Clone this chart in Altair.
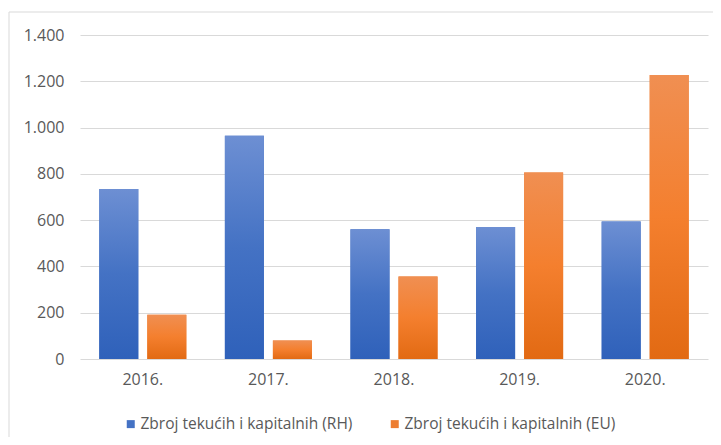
import altair as alt
import pandas as pd

years = ["2016.", "2017.", "2018.", "2019.", "2020."]
series_rh = "Zbroj tekućih i kapitalnih (RH)"
series_eu = "Zbroj tekućih i kapitalnih (EU)"
values_rh = [735, 965, 561, 570, 594]
values_eu = [191, 80, 356, 806, 1227]
y_ticks = [0, 200, 400, 600, 800, 1000, 1200, 1400]

rows = []
for y, v in zip(years, values_rh):
    rows.append({"year": y, "series": series_rh, "value": v})
for y, v in zip(years, values_eu):
    rows.append({"year": y, "series": series_eu, "value": v})
df = pd.DataFrame(rows)

FONT = "Open Sans"
TXT = "#595959"
GRID = "#D9D9D9"

x_enc = alt.X(
    "year:N",
    sort=years,
    scale=alt.Scale(paddingInner=0.307, paddingOuter=0.1535),
    axis=alt.Axis(title=None, labelAngle=0, domain=False, ticks=False,
                  labelPadding=12, labelFontSize=16, labelColor=TXT, labelFont=FONT),
)
xo_enc = alt.XOffset(
    "series:N",
    sort=[series_rh, series_eu],
    scale=alt.Scale(domain=[series_rh, series_eu], paddingInner=0.1875, paddingOuter=0),
)
y_enc = alt.Y(
    "value:Q",
    scale=alt.Scale(domain=[0, 1400], nice=False),
    axis=alt.Axis(title=None, values=y_ticks, domain=False, ticks=False,
                  labelPadding=16, labelFontSize=16, labelColor=TXT, labelFont=FONT,
                  gridColor=GRID, gridWidth=1,
                  labelExpr="replace(format(datum.value, ','), ',', '.')"),
)

base = alt.Chart(df).mark_bar().encode(
    x=x_enc,
    xOffset=xo_enc,
    y=y_enc,
    color=alt.Color(
        "series:N",
        sort=[series_rh, series_eu],
        scale=alt.Scale(domain=[series_rh, series_eu], range=["#4472C4", "#ED7D31"]),
        legend=alt.Legend(
            title=None, orient="none", direction="horizontal",
            legendX=43, legendY=381,
            symbolType="square", symbolSize=64, symbolStrokeWidth=0,
            labelFontSize=15.5, labelColor=TXT, labelFont=FONT,
            labelOffset=2, columnPadding=34, labelLimit=400,
        ),
    ),
)

grad_blue = alt.Gradient(
    gradient="linear",
    stops=[
        alt.GradientStop(color="#6D8FD3", offset=0),
        alt.GradientStop(color="#4472C4", offset=0.5),
        alt.GradientStop(color="#2F61BA", offset=1),
    ],
    x1=0, x2=0, y1=0, y2=1,
)
grad_orange = alt.Gradient(
    gradient="linear",
    stops=[
        alt.GradientStop(color="#F08F52", offset=0),
        alt.GradientStop(color="#F47F2E", offset=0.5),
        alt.GradientStop(color="#E26A13", offset=1),
    ],
    x1=0, x2=0, y1=0, y2=1,
)

rh_layer = alt.Chart(df).transform_filter(
    alt.datum.series == series_rh
).mark_bar(color=grad_blue).encode(x=x_enc, xOffset=xo_enc, y=y_enc)

eu_layer = alt.Chart(df).transform_filter(
    alt.datum.series == series_eu
).mark_bar(color=grad_orange).encode(x=x_enc, xOffset=xo_enc, y=y_enc)

frame_data = alt.Data(values=[{"k": 1}])
frame_top = alt.Chart(frame_data).mark_rule(color=GRID, strokeWidth=1).encode(
    x=alt.value(-71), x2=alt.value(641), y=alt.value(-23)
)
frame_left = alt.Chart(frame_data).mark_rule(color=GRID, strokeWidth=1).encode(
    x=alt.value(-71), y=alt.value(-23), y2=alt.value(402)
)

chart = alt.layer(base, rh_layer, eu_layer, frame_top, frame_left).properties(
    width=628,
    height=324,
    autosize=alt.AutoSizeParams(type="none"),
    padding={"left": 72, "top": 27, "right": 5, "bottom": 78},
    background="white",
).configure_view(strokeWidth=0)

chart.save("out.html", embed_options={"renderer": "svg", "actions": False})
